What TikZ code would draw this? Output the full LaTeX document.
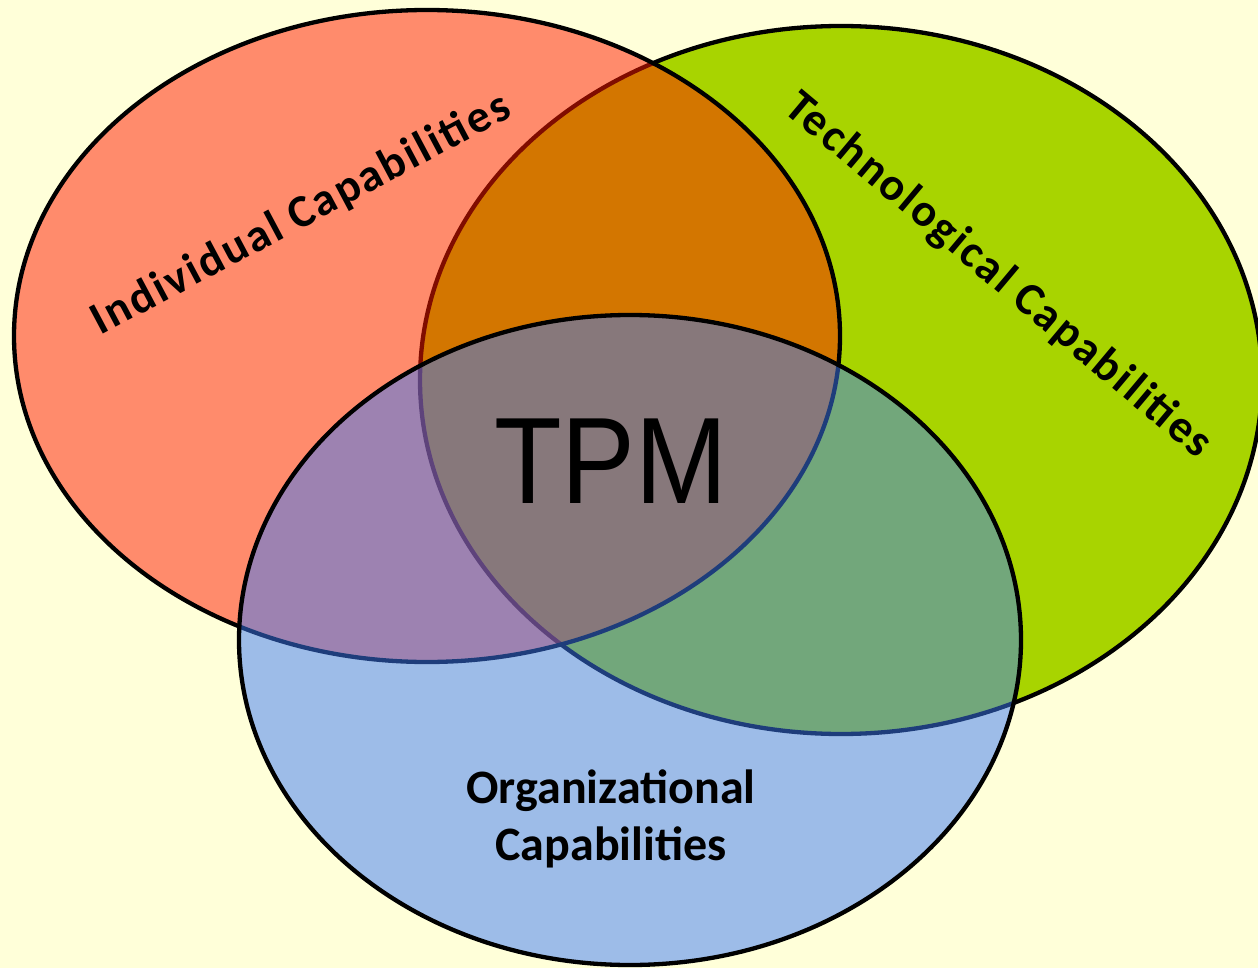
\documentclass[tikz,border=0pt]{standalone}
\usepackage{fontspec}
\newfontfamily\lab[LetterSpace=5]{Carlito}
\newfontfamily\orgfont{Carlito}
\newfontfamily\tpmfont{Liberation Sans}
\definecolor{bg}{RGB}{255,255,217}
\definecolor{techgreen}{RGB}{168,212,0}
\definecolor{indred}{RGB}{255,25,0}
\definecolor{orgblue}{RGB}{61,123,247}
\tikzset{
  venn/.style={draw=black, line width=4.3pt},
  label/.style={text=black, inner sep=0pt, font=\lab\bfseries\fontsize{46}{52}\selectfont},
}
\begin{document}
\begin{tikzpicture}[x=1pt,y=-1pt]
\useasboundingbox (0,0) rectangle (1258,968);
\fill[bg] (0,0) rectangle (1258,968);
\begin{scope}
\clip (0,0) rectangle (1258,968);
% Technological (green, opaque)
\draw[venn, fill=techgreen] (841,380) ellipse [x radius=421pt, y radius=354pt];
% Individual (red, translucent)
\draw[venn, fill=indred, fill opacity=0.5] (427,336) ellipse [x radius=413pt, y radius=326pt];
% Organizational (blue, translucent)
\draw[venn, fill=orgblue, fill opacity=0.5] (630,640) ellipse [x radius=391pt, y radius=325pt];
\end{scope}
\node[label, rotate=28] (ind) at (301,215) {Individual Capabilities};
\node[label, rotate=-40] (tech) at (998,276) {Technological Capabilities};
\node[text=black, inner sep=0pt, align=center, font=\orgfont\bfseries\fontsize{48}{57}\selectfont, anchor=base] (org) at (611,860) {Organizational\\Capabilities};
\node[text=black, inner sep=0pt, xscale=0.9, font=\tpmfont\fontsize{123}{123}\selectfont, anchor=base] (tpm) at (611,503) {TPM};
\end{tikzpicture}
\end{document}
